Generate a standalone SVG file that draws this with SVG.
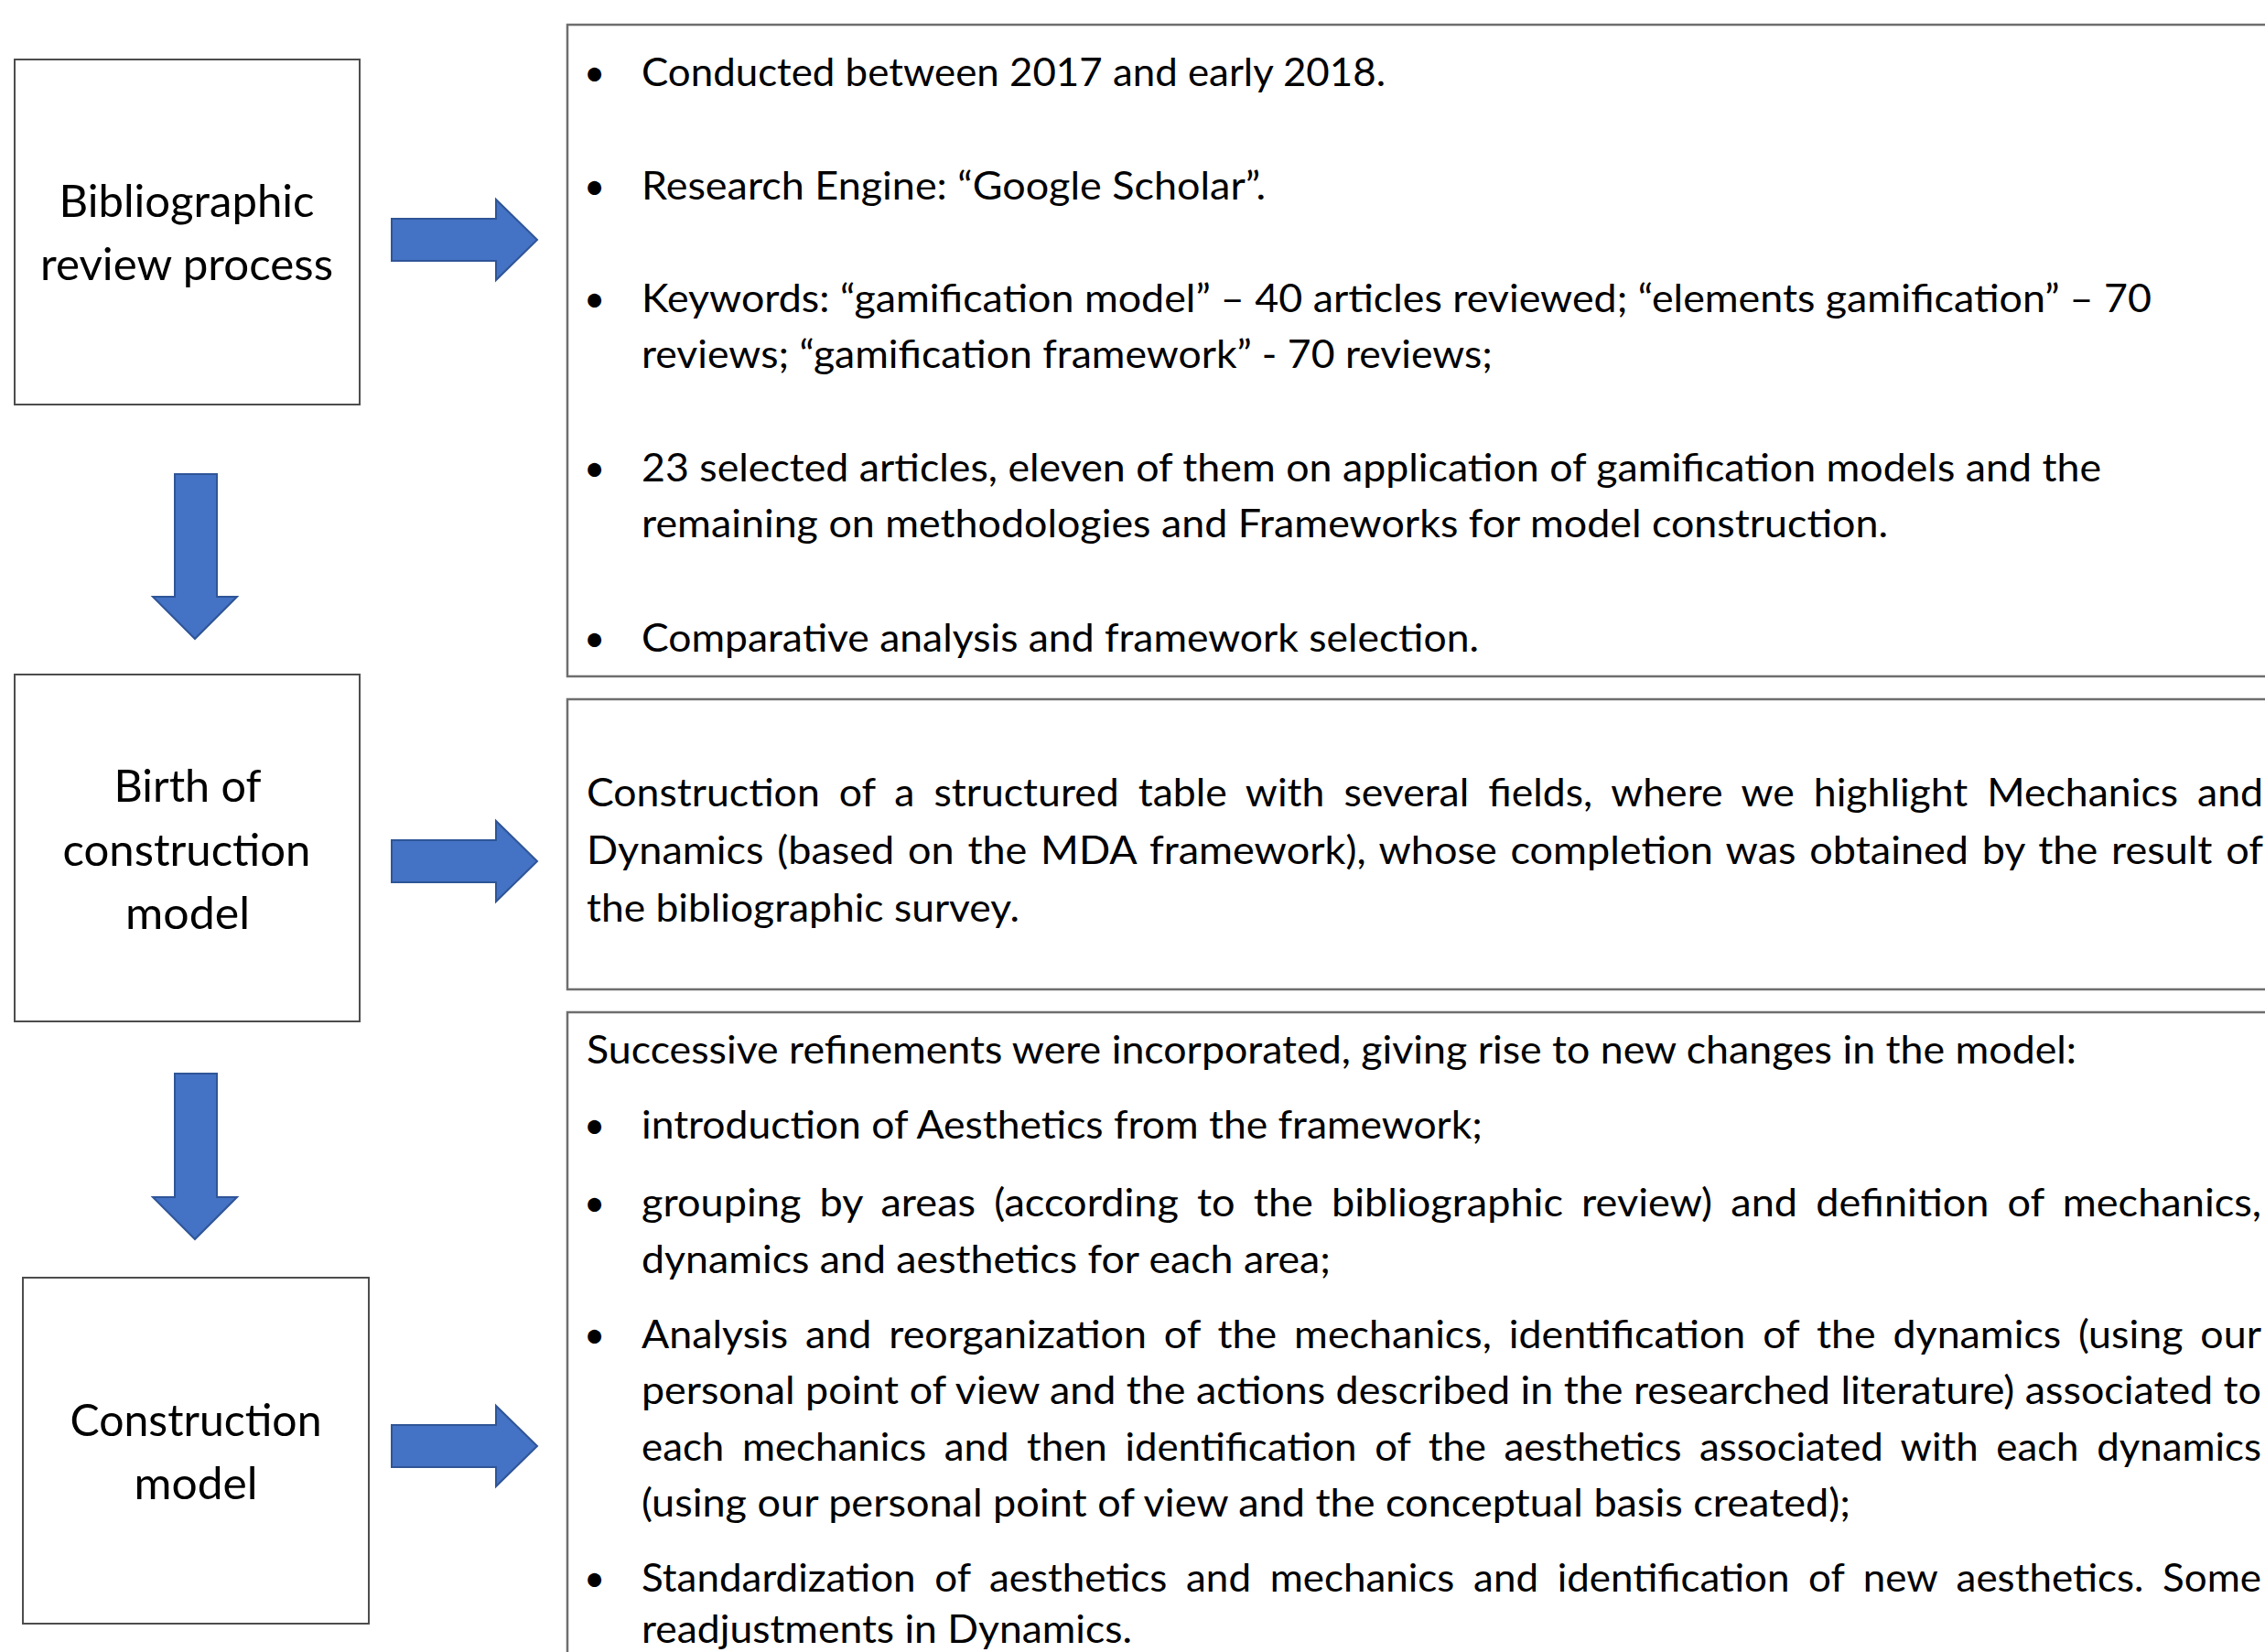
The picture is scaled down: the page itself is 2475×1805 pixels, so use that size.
<svg xmlns="http://www.w3.org/2000/svg" width="2475" height="1805" viewBox="0 0 2475 1805">
<style>
.bg{fill:#ffffff}
.step{fill:#ffffff;stroke:#4d4d4d;stroke-width:2}
.panel{fill:#ffffff;stroke:#6e6e6e;stroke-width:2.5}
.arrow{fill:#4472C4;stroke:#2F5597;stroke-width:2;stroke-linejoin:miter}
.lbl{font-family:Lato,"Open Sans","Liberation Sans",sans-serif;font-size:49px;fill:#000;text-anchor:middle}
.t{font-family:Lato,"Open Sans","Liberation Sans",sans-serif;font-size:42px;fill:#000}
.b{font-family:Lato,"Open Sans","Liberation Sans",sans-serif;font-size:40px;fill:#000}
</style>
<rect class="bg" x="0" y="0" width="2475" height="1805"/>

<g id="connectors">
  <path class="arrow" d="M428,239 H542 V218 L587,262 L542,306 V285 H428 Z"/>
  <path class="arrow" d="M428,918 H542 V897 L587,941 L542,985 V964 H428 Z"/>
  <path class="arrow" d="M428,1557 H542 V1536 L587,1580 L542,1624 V1603 H428 Z"/>
  <path class="arrow" d="M191,518 H237 V652 H259 L213,698 L167,652 H191 Z"/>
  <path class="arrow" d="M191,1173 H237 V1308 H259 L213,1354 L167,1308 H191 Z"/>
</g>

<g id="node-bibliographic">
  <rect class="step" x="16" y="65" width="377" height="377"/>
  <text class="lbl" x="204" y="237" textLength="279" lengthAdjust="spacingAndGlyphs">Bibliographic</text>
  <text class="lbl" x="204" y="306" textLength="320" lengthAdjust="spacingAndGlyphs">review process</text>
</g>

<g id="node-birth">
  <rect class="step" x="16" y="737" width="377" height="379"/>
  <text class="lbl" x="205" y="876" textLength="161" lengthAdjust="spacingAndGlyphs">Birth of</text>
  <text class="lbl" x="204" y="946" textLength="271" lengthAdjust="spacingAndGlyphs">construction</text>
  <text class="lbl" x="205" y="1015" textLength="136" lengthAdjust="spacingAndGlyphs">model</text>
</g>

<g id="node-construction">
  <rect class="step" x="25" y="1396" width="378" height="378"/>
  <text class="lbl" x="214" y="1569" textLength="275" lengthAdjust="spacingAndGlyphs">Construction</text>
  <text class="lbl" x="214" y="1638" textLength="135" lengthAdjust="spacingAndGlyphs">model</text>
</g>

<g id="panel-review">
  <rect class="panel" x="620" y="27" width="1870" height="712"/>
  <text class="b" x="638" y="94">•</text>
  <text class="t" x="701" y="94" textLength="813" lengthAdjust="spacingAndGlyphs">Conducted between 2017 and early 2018.</text>
  <text class="b" x="638" y="218">•</text>
  <text class="t" x="701" y="218" textLength="682" lengthAdjust="spacingAndGlyphs">Research Engine: “Google Scholar”.</text>
  <text class="b" x="638" y="341">•</text>
  <text class="t" x="701" y="341" textLength="1650" lengthAdjust="spacingAndGlyphs">Keywords: “gamification model” – 40 articles reviewed; “elements gamification” – 70</text>
  <text class="t" x="701" y="402" textLength="930" lengthAdjust="spacingAndGlyphs">reviews; “gamification framework” - 70 reviews;</text>
  <text class="b" x="638" y="526">•</text>
  <text class="t" x="701" y="526" textLength="1595" lengthAdjust="spacingAndGlyphs">23 selected articles, eleven of them on application of gamification models and the</text>
  <text class="t" x="701" y="587" textLength="1362" lengthAdjust="spacingAndGlyphs">remaining on methodologies and Frameworks for model construction.</text>
  <text class="b" x="638" y="712">•</text>
  <text class="t" x="701" y="712" textLength="915" lengthAdjust="spacingAndGlyphs">Comparative analysis and framework selection.</text>
</g>

<g id="panel-birth">
  <rect class="panel" x="620" y="764" width="1870" height="317"/>
  <text class="t" x="641" y="881" word-spacing="9" textLength="1832" lengthAdjust="spacingAndGlyphs">Construction of a structured table with several fields, where we highlight Mechanics and</text>
  <text class="t" x="641" y="944" word-spacing="3" textLength="1832" lengthAdjust="spacingAndGlyphs">Dynamics (based on the MDA framework), whose completion was obtained by the result of</text>
  <text class="t" x="641" y="1007" textLength="473" lengthAdjust="spacingAndGlyphs">the bibliographic survey.</text>
</g>

<g id="panel-construction">
  <rect class="panel" x="620" y="1106" width="1870" height="720"/>
  <text class="t" x="641" y="1162" textLength="1628" lengthAdjust="spacingAndGlyphs">Successive refinements were incorporated, giving rise to new changes in the model:</text>
  <text class="b" x="638" y="1244">•</text>
  <text class="t" x="701" y="1244" textLength="919" lengthAdjust="spacingAndGlyphs">introduction of Aesthetics from the framework;</text>
  <text class="b" x="638" y="1329">•</text>
  <text class="t" x="701" y="1329" word-spacing="8" textLength="1770" lengthAdjust="spacingAndGlyphs">grouping by areas (according to the bibliographic review) and definition of mechanics,</text>
  <text class="t" x="701" y="1391" textLength="753" lengthAdjust="spacingAndGlyphs">dynamics and aesthetics for each area;</text>
  <text class="b" x="638" y="1473">•</text>
  <text class="t" x="701" y="1473" word-spacing="7" textLength="1770" lengthAdjust="spacingAndGlyphs">Analysis and reorganization of the mechanics, identification of the dynamics (using our</text>
  <text class="t" x="701" y="1534" textLength="1770" lengthAdjust="spacingAndGlyphs">personal point of view and the actions described in the researched literature) associated to</text>
  <text class="t" x="701" y="1596" word-spacing="8" textLength="1770" lengthAdjust="spacingAndGlyphs">each mechanics and then identification of the aesthetics associated with each dynamics</text>
  <text class="t" x="701" y="1657" textLength="1321" lengthAdjust="spacingAndGlyphs">(using our personal point of view and the conceptual basis created);</text>
  <text class="b" x="638" y="1739">•</text>
  <text class="t" x="701" y="1739" word-spacing="9" textLength="1770" lengthAdjust="spacingAndGlyphs">Standardization of aesthetics and mechanics and identification of new aesthetics. Some</text>
  <text class="t" x="701" y="1795" textLength="536" lengthAdjust="spacingAndGlyphs">readjustments in Dynamics.</text>
</g>
</svg>
